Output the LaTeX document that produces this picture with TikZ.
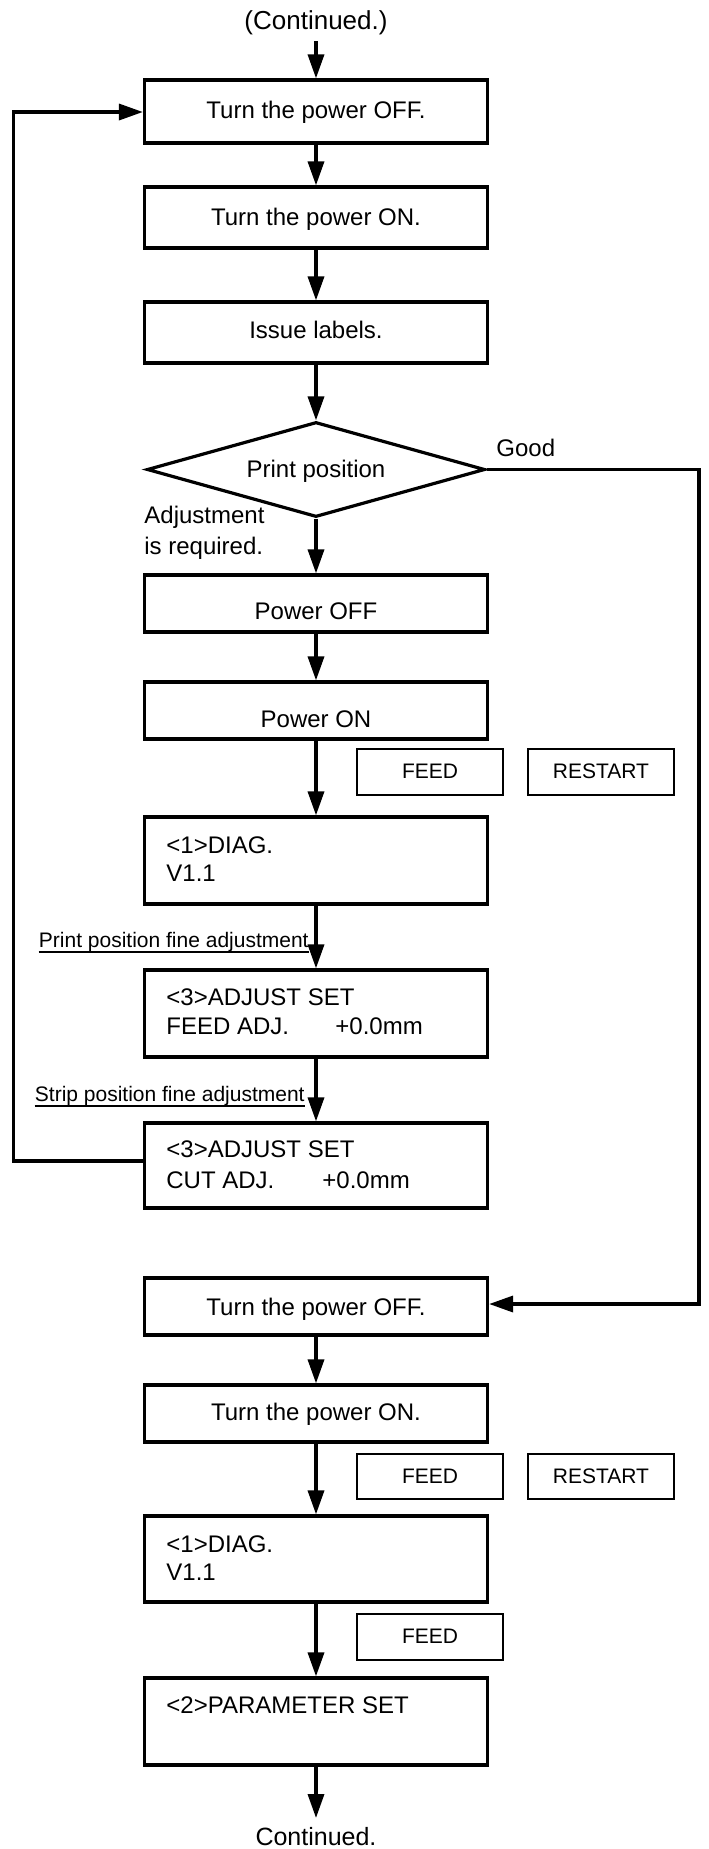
\documentclass[tikz,border=0pt]{standalone}
\usepackage{fontspec}
\setmainfont{Liberation Sans}
\usetikzlibrary{arrows.meta,shapes.geometric}
\begin{document}
\begin{tikzpicture}[x=0.5pt,y=-0.5pt,
  box/.style={draw, line width=1.6pt, minimum width=171.5pt, inner sep=0pt},
  keybox/.style={draw, line width=1.2pt, minimum width=73pt, minimum height=23pt, inner sep=0pt},
  txt/.style={anchor=base, inner sep=0pt, font=\fontsize{12pt}{14pt}\selectfont},
  ltxt/.style={txt, anchor=base west},
  ktxt/.style={anchor=base, inner sep=0pt, font=\fontsize{10.5pt}{12pt}\selectfont},
  utxt/.style={anchor=base east, inner sep=0pt, font=\fontsize{10.5pt}{12pt}\selectfont},
  uline/.style={line width=0.9pt},
  arr/.style={line width=1.7pt, -{Triangle[length=12pt,width=8pt]}},
  decision/.style={draw, diamond, line width=1.6pt, minimum width=169pt, minimum height=47.5pt, inner sep=0pt}]
\useasboundingbox (0,0) rectangle (708,1849);

% top
\node[txt, font=\fontsize{13pt}{15pt}\selectfont] (cont) at (316,29) {(Continued.)};
\coordinate (c0) at (316,41);

\node[box, minimum height=31.5pt] (b1) at (316,111.5) {};
\node[txt] (t1) at (316,118) {Turn the power OFF.};
\node[box, minimum height=30.5pt] (b2) at (316,217.5) {};
\node[txt] (t2) at (316,225) {Turn the power ON.};
\node[box, minimum height=30.5pt] (b3) at (316,332.5) {};
\node[txt] (t3) at (316,338) {Issue labels.};

\node[decision] (d) at (316,469.5) {};
\node[txt] (td) at (316,477) {Print position};
\node[ltxt] (good) at (496,456) {Good};
\node[ltxt] (adj1) at (144,523) {Adjustment};
\node[ltxt] (adj2) at (144,554) {is required.};

\node[box, minimum height=28.5pt] (b4) at (316,603.5) {};
\node[txt] (t4) at (316,619) {Power OFF};
\node[box, minimum height=28.5pt] (b5) at (316,710.5) {};
\node[txt] (t5) at (316,727) {Power ON};

\node[keybox] (fa) at (430,772) {};
\node[ktxt] (tfa) at (430,778.5) {FEED};
\node[keybox] (ra) at (601,772) {};
\node[ktxt] (tra) at (601,778.5) {RESTART};

\node[box, minimum height=43.5pt] (b6) at (316,860.5) {};
\node[ltxt] (t6a) at (166,853) {<1>DIAG.};
\node[ltxt] (t6b) at (166,881) {V1.1};

\node[utxt] (l1) at (309,947) {Print position fine adjustment};
\draw[uline] (l1.south west) -- (l1.south east);

\node[box, minimum height=43.5pt] (b7) at (316,1013.5) {};
\node[ltxt] (t7a) at (166,1005) {<3>ADJUST SET};
\node[ltxt] (t7b) at (166,1034) {FEED ADJ.};
\node[ltxt] (t7c) at (335,1034) {+0.0mm};

\node[utxt] (l2) at (305,1101) {Strip position fine adjustment};
\draw[uline] (l2.south west) -- (l2.south east);

\node[box, minimum height=42.5pt] (b8) at (316,1165.5) {};
\node[ltxt] (t8a) at (166,1157) {<3>ADJUST SET};
\node[ltxt] (t8b) at (166,1188) {CUT ADJ.};
\node[ltxt] (t8c) at (322,1188) {+0.0mm};

\node[box, minimum height=28.5pt] (b9) at (316,1306.5) {};
\node[txt] (t9) at (316,1315) {Turn the power OFF.};
\node[box, minimum height=28.5pt] (b10) at (316,1413.5) {};
\node[txt] (t10) at (316,1420) {Turn the power ON.};

\node[keybox, minimum height=22.5pt] (fb) at (430,1476.5) {};
\node[ktxt] (tfb) at (430,1483) {FEED};
\node[keybox, minimum height=22.5pt] (rb) at (601,1476.5) {};
\node[ktxt] (trb) at (601,1483) {RESTART};

\node[box, minimum height=43pt] (b11) at (316,1559) {};
\node[ltxt] (t11a) at (166,1552) {<1>DIAG.};
\node[ltxt] (t11b) at (166,1580) {V1.1};

\node[keybox] (fc) at (430,1637) {};
\node[ktxt] (tfc) at (430,1643) {FEED};

\node[box, minimum height=43.5pt] (b12) at (316,1721.5) {};
\node[ltxt] (t12) at (166,1713) {<2>PARAMETER SET};

\coordinate (c1) at (316,1818);
\node[txt, font=\fontsize{12.5pt}{15pt}\selectfont] (cont2) at (316,1845) {Continued.};

% main flow
\draw[arr] (c0) -- (b1.north);
\draw[arr] (b1.south) -- (b2.north);
\draw[arr] (b2.south) -- (b3.north);
\draw[arr] (b3.south) -- (d.north);
\draw[arr] (d.south) -- (b4.north);
\draw[arr] (b4.south) -- (b5.north);
\draw[arr] (b5.south) -- (b6.north);
\draw[arr] (b6.south) -- (b7.north);
\draw[arr] (b7.south) -- (b8.north);
\draw[arr] (b9.south) -- (b10.north);
\draw[arr] (b10.south) -- (b11.north);
\draw[arr] (b11.south) -- (b12.north);
\draw[arr] (b12.south) -- (c1);

% loop back to the top
\coordinate (lp1) at (13.5,1161);
\coordinate (lp2) at (13.5,112);
\draw[arr] (lp1 -| b8.west) -- (lp1) -- (lp2) -- (lp2 -| b1.west);

% "Good" branch
\coordinate (rp1) at (699,469.5);
\coordinate (rp2) at (699,1304);
\draw[arr] (d.east) -- (rp1) -- (rp2) -- (rp2 -| b9.east);
\end{tikzpicture}
\end{document}
